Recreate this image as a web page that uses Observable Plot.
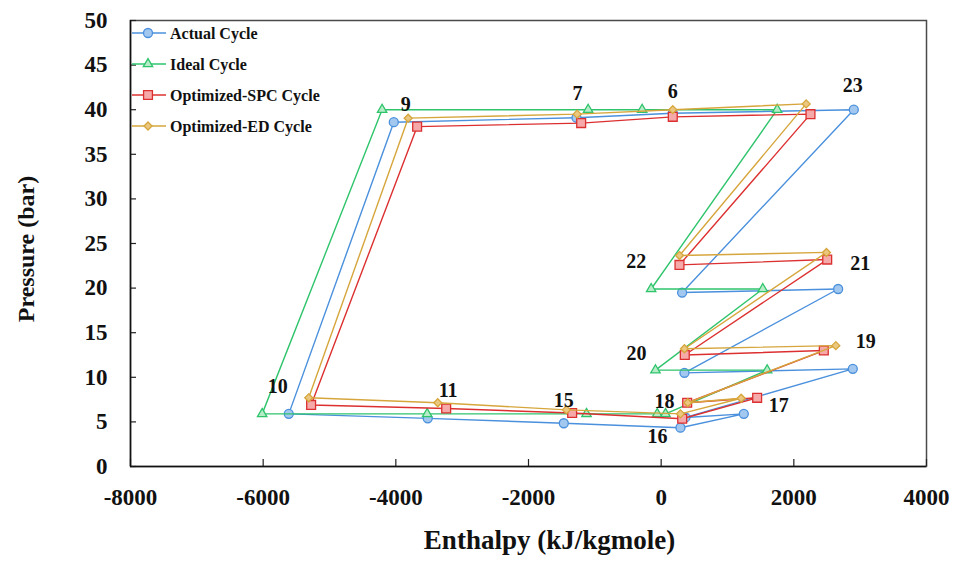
<!DOCTYPE html>
<html><head><meta charset="utf-8">
<script src="https://cdn.jsdelivr.net/npm/d3@7"></script>
<script src="https://cdn.jsdelivr.net/npm/@observablehq/plot@0.6"></script>
<style>body{margin:0;background:#fff}#chart{width:956px;height:563px}</style>
</head><body><div id="chart"></div>
<script>
// ---- data ----
const seriesNames = ["Actual Cycle", "Ideal Cycle", "Optimized-SPC Cycle", "Optimized-ED Cycle"];
const actualStates = ["9","10","11","15","16","17","18","19","20","21","22","23","6","7"];
const actualH = [-4031, -5614, -3519, -1468, 291, 1246, 366, 2889, 351, 2668, 316, 2904, 175, -1277];
const actualP = [38.6, 5.9, 5.4, 4.85, 4.35, 5.9, 5.5, 10.95, 10.5, 19.9, 19.5, 40.0, 39.6, 39.1];
const idealStates = ["9","10","11","15","16","18","19","20","21","22","23","6","7"];
const idealH = [-4207, -6015, -3528, -1126, -60, 65, 1598, -86, 1532, -151, 1749, -287, -1101];
const idealP = [40.0, 5.9, 5.9, 5.9, 5.9, 5.9, 10.8, 10.8, 19.9, 19.9, 40.0, 40.0, 40.0];
const spcStates = ["9","10","11","15","16","17","18","19","20","21","22","23","6","7"];
const spcH = [-3679, -5277, -3241, -1342, 317, 1447, 392, 2452, 356, 2503, 276, 2251, 175, -1206];
const spcP = [38.1, 6.9, 6.5, 6.0, 5.35, 7.7, 7.15, 13.0, 12.5, 23.2, 22.6, 39.5, 39.2, 38.5];
const edStates = ["9","10","11","15","16","17","18","19","20","21","22","23","6","7"];
const edH = [-3814, -5313, -3368, -1428, 291, 1206, 401, 2633, 351, 2492, 276, 2186, 175, -1266];
const edP = [39.05, 7.7, 7.15, 6.35, 5.9, 7.65, 7.15, 13.55, 13.2, 24.0, 23.65, 40.65, 40.0, 39.5];
const xTicks = [-8000, -6000, -4000, -2000, 0, 2000, 4000];
const yTicks = [0, 5, 10, 15, 20, 25, 30, 35, 40, 45, 50];
const stateLabels = ["23","22","21","20","19","18","17","16","15","11","10","9","7","6"];
const labelSeries = ["Actual Cycle","Ideal Cycle","Actual Cycle","Ideal Cycle","Actual Cycle","Ideal Cycle","Actual Cycle","Actual Cycle","Actual Cycle","Optimized-SPC Cycle","Actual Cycle","Actual Cycle","Actual Cycle","Actual Cycle"];
const xTitle = "Enthalpy (kJ/kgmole)";
const yTitle = "Pressure (bar)";

// ---- styling ----
const styles = {
  "Actual Cycle": {stroke: "#4a90dc", fill: "#a3c8ef", symbol: "circle", r: 4.5},
  "Ideal Cycle": {stroke: "#2fc46c", fill: "#b6ecc8", symbol: "triangle", r: 3.5},
  "Optimized-SPC Cycle": {stroke: "#dc3030", fill: "#f6a9a9", symbol: "square", r: 5},
  "Optimized-ED Cycle": {stroke: "#d6a63c", fill: "#ebc77f", symbol: "diamond2", r: 3.6}
};
const labelOffsets = {
  "23": [-1, -24], "22": [-15, -27], "21": [22, -25], "20": [-19, -17], "19": [13, -27],
  "18": [-1, -12], "17": [35, -8], "16": [-23, 9], "15": [0, -23], "11": [2, -18],
  "10": [-11, -27], "9": [12, -18], "7": [1, -24], "6": [0, -22]
};

const raw = [
  [seriesNames[0], actualStates, actualH, actualP],
  [seriesNames[1], idealStates, idealH, idealP],
  [seriesNames[2], spcStates, spcH, spcP],
  [seriesNames[3], edStates, edH, edP]
];
const series = raw.map(([name, st, H, P]) => {
  const pts = st.map((s, i) => ({series: name, state: s, H: H[i], P: P[i]}));
  return {name, pts, loop: [...pts, pts[0]]};
});
const allPts = series.flatMap(s => s.pts);
const labelRows = stateLabels.map((s, i) => {
  const p = allPts.find(d => d.series === labelSeries[i] && d.state === s);
  return {...p, label: s, dx: labelOffsets[s][0], dy: labelOffsets[s][1]};
});

const font = "'Liberation Serif', 'DejaVu Serif', serif";
const marks = [
  Plot.frame({stroke: "#4a4a4a", strokeWidth: 1.5}),
  Plot.tickX(xTicks, {x: d => d, insetTop: 439, stroke: "#222", strokeWidth: 1.2}),
  Plot.tickY(yTicks, {y: d => d, insetRight: 790, stroke: "#222", strokeWidth: 1.2}),
  Plot.ruleX([-8000], {stroke: "#111", strokeWidth: 1.5}),
  Plot.ruleY([0], {stroke: "#111", strokeWidth: 1.5}),
  Plot.axisX(xTicks, {tickSize: 0, tickPadding: 22, fontSize: 23, fontWeight: "bold", fill: "#111", tickFormat: d => String(d), label: null}),
  Plot.axisY(yTicks, {tickSize: 0, tickPadding: 23, fontSize: 23, fontWeight: "bold", fill: "#111", tickFormat: d => String(d), label: null})
];
for (const s of series) {
  const st = styles[s.name];
  marks.push(Plot.line(s.loop, {x: "H", y: "P", stroke: st.stroke, strokeWidth: 1.4}));
  marks.push(Plot.dot(s.pts, {x: "H", y: "P", symbol: st.symbol, r: st.r, fill: st.fill, stroke: st.stroke, strokeWidth: 1.3}));
}
for (const row of labelRows) {
  marks.push(Plot.text([row], {x: "H", y: "P", text: "label", dx: row.dx, dy: row.dy, fontSize: 20, fontWeight: "bold", fill: "#111"}));
}
marks.push(Plot.text([xTitle], {frameAnchor: "bottom", dx: 21, dy: 82, fontSize: 27, fontWeight: "bold", fill: "#111"}));

const chart = Plot.plot({
  width: 956, height: 563,
  marginLeft: 130, marginRight: 30, marginTop: 20, marginBottom: 97,
  style: {fontFamily: font, background: "#fff", overflow: "visible"},
  x: {domain: [-8000, 4000]},
  y: {domain: [0, 50]},
  marks
});
document.getElementById("chart").appendChild(chart);

const svg = d3.select(chart);
// y-axis title
svg.append("text").attr("transform", "translate(26,249) rotate(-90)")
  .attr("text-anchor", "middle").attr("dy", "0.35em")
  .attr("font-family", font).attr("font-weight", "bold").attr("font-size", 24).attr("fill", "#111")
  .text(yTitle);

// ---- legend ----
const lg = svg.append("g").attr("font-family", font).attr("font-weight", "bold").attr("font-size", 16).attr("text-anchor", "start");
const symMap = {circle: d3.symbolCircle, triangle: d3.symbolTriangle, square: d3.symbolSquare, diamond2: d3.symbolDiamond2};
seriesNames.forEach((name, i) => {
  const st = styles[name];
  const y = 33 + i * 31;
  lg.append("line").attr("x1", 132).attr("x2", 166).attr("y1", y).attr("y2", y).attr("stroke", st.stroke).attr("stroke-width", 1.4);
  lg.append("path").attr("transform", `translate(148,${y})`).attr("d", d3.symbol(symMap[st.symbol], Math.PI * st.r * st.r)())
    .attr("fill", st.fill).attr("stroke", st.stroke).attr("stroke-width", 1.3);
  lg.append("text").attr("x", 170).attr("y", y).attr("dy", "0.35em").attr("fill", "#111").attr("text-anchor", "start").text(name);
});
</script></body></html>
